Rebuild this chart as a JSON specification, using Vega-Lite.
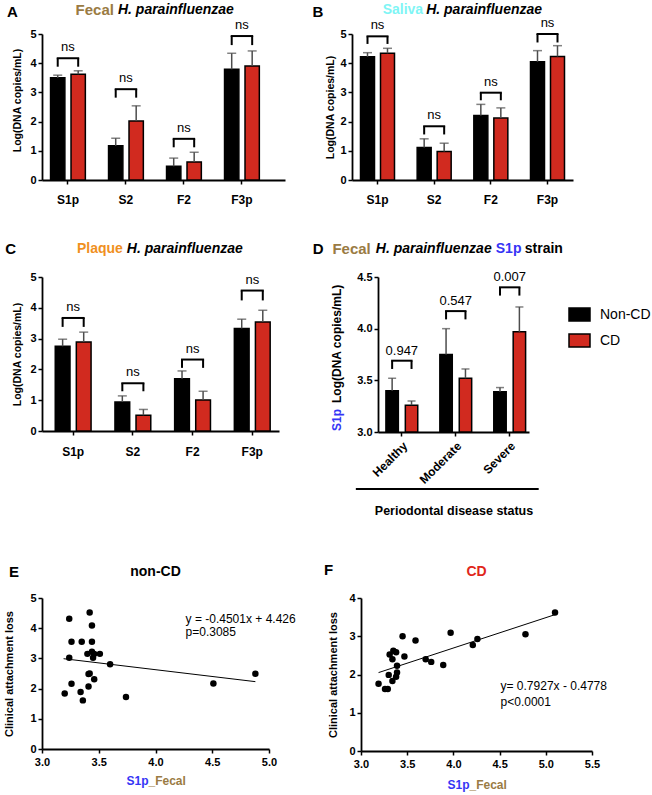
{
  "$schema": "https://vega.github.io/schema/vega-lite/v6.json",
  "padding": {"left": 3, "top": 3, "right": 2, "bottom": 2},
  "config": {
    "font": "Liberation Sans",
    "view": {"stroke": null},
    "axis": {"domainColor": "black", "domainWidth": 1.8, "tickColor": "black", "tickWidth": 1.5, "tickSize": 4, "labelFont": "Liberation Sans", "labelFontWeight": "bold", "labelFontSize": 11, "labelColor": "black", "labelPadding": 2, "labelOverlap": false, "labelFlush": false, "titleFont": "Liberation Sans", "titleFontWeight": "bold", "titleFontSize": 10.5, "titleColor": "black", "grid": false},
    "text": {"font": "Liberation Sans"}
  },
  "datasets": {
    "barsA": [
      {"cat": "S1p", "group": "Non-CD", "mean": 3.50, "err": 3.59},
      {"cat": "S1p", "group": "CD", "mean": 3.62, "err": 3.74},
      {"cat": "S2", "group": "Non-CD", "mean": 1.17, "err": 1.43},
      {"cat": "S2", "group": "CD", "mean": 2.02, "err": 2.54},
      {"cat": "F2", "group": "Non-CD", "mean": 0.47, "err": 0.75},
      {"cat": "F2", "group": "CD", "mean": 0.62, "err": 0.95},
      {"cat": "F3p", "group": "Non-CD", "mean": 3.79, "err": 4.34},
      {"cat": "F3p", "group": "CD", "mean": 3.90, "err": 4.42}
    ],
    "brA": [
      {"cat": "S1p", "group": "Non-CD", "top": 4.17, "leg": 3.88, "label": "ns"},
      {"cat": "S1p", "group": "CD", "top": 4.17, "leg": 3.88, "label": "ns"},
      {"cat": "S2", "group": "Non-CD", "top": 3.11, "leg": 2.82, "label": "ns"},
      {"cat": "S2", "group": "CD", "top": 3.11, "leg": 2.82, "label": "ns"},
      {"cat": "F2", "group": "Non-CD", "top": 1.41, "leg": 1.12, "label": "ns"},
      {"cat": "F2", "group": "CD", "top": 1.41, "leg": 1.12, "label": "ns"},
      {"cat": "F3p", "group": "Non-CD", "top": 4.93, "leg": 4.62, "label": "ns"},
      {"cat": "F3p", "group": "CD", "top": 4.93, "leg": 4.62, "label": "ns"}
    ],
    "barsB": [
      {"cat": "S1p", "group": "Non-CD", "mean": 4.22, "err": 4.36},
      {"cat": "S1p", "group": "CD", "mean": 4.34, "err": 4.51},
      {"cat": "S2", "group": "Non-CD", "mean": 1.11, "err": 1.41},
      {"cat": "S2", "group": "CD", "mean": 0.98, "err": 1.26},
      {"cat": "F2", "group": "Non-CD", "mean": 2.21, "err": 2.59},
      {"cat": "F2", "group": "CD", "mean": 2.12, "err": 2.47},
      {"cat": "F3p", "group": "Non-CD", "mean": 4.05, "err": 4.43},
      {"cat": "F3p", "group": "CD", "mean": 4.23, "err": 4.60}
    ],
    "brB": [
      {"cat": "S1p", "group": "Non-CD", "top": 4.92, "leg": 4.66, "label": "ns"},
      {"cat": "S1p", "group": "CD", "top": 4.92, "leg": 4.66, "label": "ns"},
      {"cat": "S2", "group": "Non-CD", "top": 1.84, "leg": 1.56, "label": "ns"},
      {"cat": "S2", "group": "CD", "top": 1.84, "leg": 1.56, "label": "ns"},
      {"cat": "F2", "group": "Non-CD", "top": 2.99, "leg": 2.73, "label": "ns"},
      {"cat": "F2", "group": "CD", "top": 2.99, "leg": 2.73, "label": "ns"},
      {"cat": "F3p", "group": "Non-CD", "top": 5.0, "leg": 4.71, "label": "ns"},
      {"cat": "F3p", "group": "CD", "top": 5.0, "leg": 4.71, "label": "ns"}
    ],
    "barsC": [
      {"cat": "S1p", "group": "Non-CD", "mean": 2.75, "err": 2.98},
      {"cat": "S1p", "group": "CD", "mean": 2.89, "err": 3.21},
      {"cat": "S2", "group": "Non-CD", "mean": 0.94, "err": 1.14},
      {"cat": "S2", "group": "CD", "mean": 0.51, "err": 0.70},
      {"cat": "F2", "group": "Non-CD", "mean": 1.70, "err": 1.95},
      {"cat": "F2", "group": "CD", "mean": 1.01, "err": 1.29},
      {"cat": "F3p", "group": "Non-CD", "mean": 3.33, "err": 3.63},
      {"cat": "F3p", "group": "CD", "mean": 3.54, "err": 3.92}
    ],
    "brC": [
      {"cat": "S1p", "group": "Non-CD", "top": 3.67, "leg": 3.38, "label": "ns"},
      {"cat": "S1p", "group": "CD", "top": 3.67, "leg": 3.38, "label": "ns"},
      {"cat": "S2", "group": "Non-CD", "top": 1.55, "leg": 1.29, "label": "ns"},
      {"cat": "S2", "group": "CD", "top": 1.55, "leg": 1.29, "label": "ns"},
      {"cat": "F2", "group": "Non-CD", "top": 2.32, "leg": 2.05, "label": "ns"},
      {"cat": "F2", "group": "CD", "top": 2.32, "leg": 2.05, "label": "ns"},
      {"cat": "F3p", "group": "Non-CD", "top": 4.56, "leg": 4.24, "label": "ns"},
      {"cat": "F3p", "group": "CD", "top": 4.56, "leg": 4.24, "label": "ns"}
    ],
    "barsD": [
      {"cat": "Healthy", "group": "Non-CD", "mean": 3.40, "err": 3.52},
      {"cat": "Healthy", "group": "CD", "mean": 3.26, "err": 3.30},
      {"cat": "Moderate", "group": "Non-CD", "mean": 3.75, "err": 4.00},
      {"cat": "Moderate", "group": "CD", "mean": 3.52, "err": 3.61},
      {"cat": "Severe", "group": "Non-CD", "mean": 3.39, "err": 3.43},
      {"cat": "Severe", "group": "CD", "mean": 3.97, "err": 4.21}
    ],
    "brD": [
      {"cat": "Healthy", "group": "Non-CD", "top": 3.69, "leg": 3.61, "label": "0.947"},
      {"cat": "Healthy", "group": "CD", "top": 3.69, "leg": 3.61, "label": "0.947"},
      {"cat": "Moderate", "group": "Non-CD", "top": 4.17, "leg": 4.09, "label": "0.547"},
      {"cat": "Moderate", "group": "CD", "top": 4.17, "leg": 4.09, "label": "0.547"},
      {"cat": "Severe", "group": "Non-CD", "top": 4.40, "leg": 4.32, "label": "0.007"},
      {"cat": "Severe", "group": "CD", "top": 4.40, "leg": 4.32, "label": "0.007"}
    ],
    "E": [
      {"x": 3.20, "y": 1.84}, {"x": 3.24, "y": 3.02}, {"x": 3.24, "y": 4.31}, {"x": 3.26, "y": 3.55},
      {"x": 3.26, "y": 2.16}, {"x": 3.35, "y": 3.55}, {"x": 3.34, "y": 1.89}, {"x": 3.36, "y": 1.61},
      {"x": 3.40, "y": 3.15}, {"x": 3.41, "y": 2.48}, {"x": 3.42, "y": 2.50}, {"x": 3.41, "y": 2.07},
      {"x": 3.42, "y": 4.52}, {"x": 3.44, "y": 4.09}, {"x": 3.44, "y": 3.55}, {"x": 3.44, "y": 3.22},
      {"x": 3.46, "y": 3.15}, {"x": 3.45, "y": 3.02}, {"x": 3.46, "y": 2.31}, {"x": 3.51, "y": 3.15},
      {"x": 3.60, "y": 2.81}, {"x": 3.74, "y": 1.72}, {"x": 4.51, "y": 2.17}, {"x": 4.88, "y": 2.49}
    ],
    "Eline": [{"x": 3.19, "y": 2.99}, {"x": 4.88, "y": 2.23}],
    "F": [
      {"x": 3.19, "y": 1.76}, {"x": 3.26, "y": 1.62}, {"x": 3.29, "y": 1.62}, {"x": 3.30, "y": 1.99},
      {"x": 3.31, "y": 2.52}, {"x": 3.34, "y": 2.40}, {"x": 3.34, "y": 1.83}, {"x": 3.35, "y": 2.62},
      {"x": 3.38, "y": 2.58}, {"x": 3.38, "y": 1.94}, {"x": 3.39, "y": 2.23}, {"x": 3.39, "y": 2.05},
      {"x": 3.45, "y": 3.00}, {"x": 3.47, "y": 2.47}, {"x": 3.59, "y": 2.89}, {"x": 3.70, "y": 2.40},
      {"x": 3.76, "y": 2.33}, {"x": 3.89, "y": 2.25}, {"x": 3.97, "y": 3.09}, {"x": 4.21, "y": 2.77},
      {"x": 4.26, "y": 2.93}, {"x": 4.78, "y": 3.05}, {"x": 5.10, "y": 3.62}
    ],
    "Fline": [{"x": 3.19, "y": 2.05}, {"x": 5.10, "y": 3.565}]
  },
  "resolve": {"scale": {"color": "independent", "xOffset": "independent"}, "legend": {"color": "independent"}},
  "spacing": 37,
  "vconcat": [
    {
      "spacing": 27,
      "resolve": {"scale": {"color": "independent", "xOffset": "independent"}, "legend": {"color": "independent"}},
      "hconcat": [
        {
          "width": 243, "height": 146,
          "layer": [
            {"data": {"name": "barsA"}, "mark": {"type": "bar", "stroke": "black", "strokeWidth": 1.5},
             "encoding": {
               "x": {"field": "cat", "type": "nominal", "sort": ["S1p", "S2", "F2", "F3p"], "scale": {"paddingInner": 0.4, "paddingOuter": 0.295, "align": 0.25},
                     "axis": {"title": null, "labelAngle": 0, "labelFontSize": 12, "labelPadding": 10, "encode": {"labels": {"update": {"fill": {"signal": "datum.value === 'S1p' ? '#3535f5' : datum.value === 'S2' ? '#e0281e' : datum.value === 'F2' ? '#7cf03c' : '#7b1d8e'"}}}}}},
               "xOffset": {"field": "group", "type": "nominal", "sort": ["Non-CD", "CD"], "scale": {"paddingInner": 0.3}},
               "y": {"field": "mean", "type": "quantitative", "scale": {"domain": [0, 5], "nice": false}, "axis": {"title": "Log(DNA copies/mL)", "values": [0, 1, 2, 3, 4, 5], "tickCount": 10, "format": "d", "titlePadding": 7, "titleY": 66}},
               "color": {"field": "group", "type": "nominal", "scale": {"domain": ["Non-CD", "CD"], "range": ["#000000", "#d12a1f"]}, "legend": null}
             }},
            {"data": {"name": "barsA"}, "mark": {"type": "rule", "color": "#4d4d4d", "strokeWidth": 1.5},
             "encoding": {"x": {"field": "cat", "type": "nominal", "sort": ["S1p", "S2", "F2", "F3p"]}, "xOffset": {"field": "group", "type": "nominal", "sort": ["Non-CD", "CD"]}, "y": {"field": "mean", "type": "quantitative"}, "y2": {"field": "err"}}},
            {"data": {"name": "barsA"}, "mark": {"type": "tick", "color": "#4d4d4d", "thickness": 1.5, "size": 9},
             "encoding": {"x": {"field": "cat", "type": "nominal", "sort": ["S1p", "S2", "F2", "F3p"]}, "xOffset": {"field": "group", "type": "nominal", "sort": ["Non-CD", "CD"]}, "y": {"field": "err", "type": "quantitative"}}},
            {"data": {"name": "brA"}, "mark": {"type": "line", "color": "black", "strokeWidth": 2, "strokeCap": "square"},
             "encoding": {"x": {"field": "cat", "type": "nominal", "sort": ["S1p", "S2", "F2", "F3p"]}, "xOffset": {"field": "group", "type": "nominal", "sort": ["Non-CD", "CD"]}, "y": {"field": "top", "type": "quantitative"}, "detail": {"field": "cat"}}},
            {"data": {"name": "brA"}, "mark": {"type": "rule", "color": "black", "strokeWidth": 2},
             "encoding": {"x": {"field": "cat", "type": "nominal", "sort": ["S1p", "S2", "F2", "F3p"]}, "xOffset": {"field": "group", "type": "nominal", "sort": ["Non-CD", "CD"]}, "y": {"field": "leg", "type": "quantitative"}, "y2": {"field": "top"}}},
            {"data": {"name": "brA"}, "transform": [{"filter": "datum.group === 'Non-CD'"}], "mark": {"type": "text", "fontSize": 13, "baseline": "alphabetic", "dy": -7, "color": "black"},
             "encoding": {"x": {"field": "cat", "type": "nominal", "sort": ["S1p", "S2", "F2", "F3p"]}, "y": {"field": "top", "type": "quantitative"}, "text": {"field": "label"}}},
            {"data": {"values": [{"t": "A"}]}, "mark": {"type": "text", "fontSize": 15, "fontWeight": "bold", "align": "left", "baseline": "middle", "dx": -61, "dy": -22, "color": "black"},
             "encoding": {"x": {"datum": "S1p"}, "y": {"datum": 5}, "text": {"field": "t"}}},
            {"data": {"values": [{"t": "Fecal"}]}, "mark": {"type": "text", "fontSize": 15, "fontWeight": "bold", "align": "right", "baseline": "middle", "dx": -12, "dy": -24, "color": "#9a7b43"},
             "encoding": {"x": {"datum": "S2"}, "y": {"datum": 5}, "text": {"field": "t"}}},
            {"data": {"values": [{"t": "H. parainfluenzae"}]}, "mark": {"type": "text", "fontSize": 14, "fontWeight": "bold", "fontStyle": "italic", "align": "left", "baseline": "middle", "dx": -8, "dy": -24, "color": "black"},
             "encoding": {"x": {"datum": "S2"}, "y": {"datum": 5}, "text": {"field": "t"}}}
          ]
        },
        {
          "width": 221, "height": 146,
          "layer": [
            {"data": {"name": "barsB"}, "mark": {"type": "bar", "stroke": "black", "strokeWidth": 1.5},
             "encoding": {
               "x": {"field": "cat", "type": "nominal", "sort": ["S1p", "S2", "F2", "F3p"], "scale": {"paddingInner": 0.4, "paddingOuter": 0.15, "align": 0.5},
                     "axis": {"title": null, "labelAngle": 0, "labelFontSize": 12, "labelPadding": 10, "encode": {"labels": {"update": {"fill": {"signal": "datum.value === 'S1p' ? '#3535f5' : datum.value === 'S2' ? '#e0281e' : datum.value === 'F2' ? '#7cf03c' : '#7b1d8e'"}}}}}},
               "xOffset": {"field": "group", "type": "nominal", "sort": ["Non-CD", "CD"], "scale": {"paddingInner": 0.3}},
               "y": {"field": "mean", "type": "quantitative", "scale": {"domain": [0, 5], "nice": false}, "axis": {"title": "Log(DNA copies/mL)", "values": [0, 1, 2, 3, 4, 5], "tickCount": 10, "format": "d", "titlePadding": 4}},
               "color": {"field": "group", "type": "nominal", "scale": {"domain": ["Non-CD", "CD"], "range": ["#000000", "#d12a1f"]}, "legend": null}
             }},
            {"data": {"name": "barsB"}, "mark": {"type": "rule", "color": "#4d4d4d", "strokeWidth": 1.5},
             "encoding": {"x": {"field": "cat", "type": "nominal", "sort": ["S1p", "S2", "F2", "F3p"]}, "xOffset": {"field": "group", "type": "nominal", "sort": ["Non-CD", "CD"]}, "y": {"field": "mean", "type": "quantitative"}, "y2": {"field": "err"}}},
            {"data": {"name": "barsB"}, "mark": {"type": "tick", "color": "#4d4d4d", "thickness": 1.5, "size": 9},
             "encoding": {"x": {"field": "cat", "type": "nominal", "sort": ["S1p", "S2", "F2", "F3p"]}, "xOffset": {"field": "group", "type": "nominal", "sort": ["Non-CD", "CD"]}, "y": {"field": "err", "type": "quantitative"}}},
            {"data": {"name": "brB"}, "mark": {"type": "line", "color": "black", "strokeWidth": 2, "strokeCap": "square"},
             "encoding": {"x": {"field": "cat", "type": "nominal", "sort": ["S1p", "S2", "F2", "F3p"]}, "xOffset": {"field": "group", "type": "nominal", "sort": ["Non-CD", "CD"]}, "y": {"field": "top", "type": "quantitative"}, "detail": {"field": "cat"}}},
            {"data": {"name": "brB"}, "mark": {"type": "rule", "color": "black", "strokeWidth": 2},
             "encoding": {"x": {"field": "cat", "type": "nominal", "sort": ["S1p", "S2", "F2", "F3p"]}, "xOffset": {"field": "group", "type": "nominal", "sort": ["Non-CD", "CD"]}, "y": {"field": "leg", "type": "quantitative"}, "y2": {"field": "top"}}},
            {"data": {"name": "brB"}, "transform": [{"filter": "datum.group === 'Non-CD'"}], "mark": {"type": "text", "fontSize": 13, "baseline": "alphabetic", "dy": -7, "color": "black"},
             "encoding": {"x": {"field": "cat", "type": "nominal", "sort": ["S1p", "S2", "F2", "F3p"]}, "y": {"field": "top", "type": "quantitative"}, "text": {"field": "label"}}},
            {"data": {"values": [{"t": "B"}]}, "mark": {"type": "text", "fontSize": 15, "fontWeight": "bold", "align": "left", "baseline": "middle", "dx": -65, "dy": -22, "color": "black"},
             "encoding": {"x": {"datum": "S1p"}, "y": {"datum": 5}, "text": {"field": "t"}}},
            {"data": {"values": [{"t": "Saliva"}]}, "mark": {"type": "text", "fontSize": 14, "fontWeight": "bold", "align": "right", "baseline": "middle", "dx": -11, "dy": -24, "color": "#7ff5f5"},
             "encoding": {"x": {"datum": "S2"}, "y": {"datum": 5}, "text": {"field": "t"}}},
            {"data": {"values": [{"t": "H. parainfluenzae"}]}, "mark": {"type": "text", "fontSize": 14, "fontWeight": "bold", "fontStyle": "italic", "align": "left", "baseline": "middle", "dx": -8, "dy": -24, "color": "black"},
             "encoding": {"x": {"datum": "S2"}, "y": {"datum": 5}, "text": {"field": "t"}}}
          ]
        }
      ]
    },
    {
      "spacing": 46,
      "resolve": {"scale": {"color": "independent", "xOffset": "independent"}, "legend": {"color": "independent"}},
      "vconcat": [
        {
          "spacing": 33,
          "resolve": {"scale": {"color": "independent", "xOffset": "independent"}, "legend": {"color": "independent"}},
          "hconcat": [
            {
              "width": 237, "height": 154,
              "layer": [
                {"data": {"name": "barsC"}, "mark": {"type": "bar", "stroke": "black", "strokeWidth": 1.5},
                 "encoding": {
                   "x": {"field": "cat", "type": "nominal", "sort": ["S1p", "S2", "F2", "F3p"], "scale": {"paddingInner": 0.4, "paddingOuter": 0.185, "align": 0.6},
                         "axis": {"title": null, "labelAngle": 0, "labelFontSize": 12, "labelPadding": 11, "encode": {"labels": {"update": {"fill": {"signal": "datum.value === 'S1p' ? '#3535f5' : datum.value === 'S2' ? '#e0281e' : datum.value === 'F2' ? '#7cf03c' : '#7b1d8e'"}}}}}},
                   "xOffset": {"field": "group", "type": "nominal", "sort": ["Non-CD", "CD"], "scale": {"paddingInner": 0.3}},
                   "y": {"field": "mean", "type": "quantitative", "scale": {"domain": [0, 5], "nice": false}, "axis": {"title": "Log(DNA copies/mL)", "values": [0, 1, 2, 3, 4, 5], "tickCount": 10, "format": "d", "titlePadding": 7}},
                   "color": {"field": "group", "type": "nominal", "scale": {"domain": ["Non-CD", "CD"], "range": ["#000000", "#d12a1f"]}, "legend": null}
                 }},
                {"data": {"name": "barsC"}, "mark": {"type": "rule", "color": "#4d4d4d", "strokeWidth": 1.5},
                 "encoding": {"x": {"field": "cat", "type": "nominal", "sort": ["S1p", "S2", "F2", "F3p"]}, "xOffset": {"field": "group", "type": "nominal", "sort": ["Non-CD", "CD"]}, "y": {"field": "mean", "type": "quantitative"}, "y2": {"field": "err"}}},
                {"data": {"name": "barsC"}, "mark": {"type": "tick", "color": "#4d4d4d", "thickness": 1.5, "size": 9},
                 "encoding": {"x": {"field": "cat", "type": "nominal", "sort": ["S1p", "S2", "F2", "F3p"]}, "xOffset": {"field": "group", "type": "nominal", "sort": ["Non-CD", "CD"]}, "y": {"field": "err", "type": "quantitative"}}},
                {"data": {"name": "brC"}, "mark": {"type": "line", "color": "black", "strokeWidth": 2, "strokeCap": "square"},
                 "encoding": {"x": {"field": "cat", "type": "nominal", "sort": ["S1p", "S2", "F2", "F3p"]}, "xOffset": {"field": "group", "type": "nominal", "sort": ["Non-CD", "CD"]}, "y": {"field": "top", "type": "quantitative"}, "detail": {"field": "cat"}}},
                {"data": {"name": "brC"}, "mark": {"type": "rule", "color": "black", "strokeWidth": 2},
                 "encoding": {"x": {"field": "cat", "type": "nominal", "sort": ["S1p", "S2", "F2", "F3p"]}, "xOffset": {"field": "group", "type": "nominal", "sort": ["Non-CD", "CD"]}, "y": {"field": "leg", "type": "quantitative"}, "y2": {"field": "top"}}},
                {"data": {"name": "brC"}, "transform": [{"filter": "datum.group === 'Non-CD'"}], "mark": {"type": "text", "fontSize": 13, "baseline": "alphabetic", "dy": -7, "color": "black"},
                 "encoding": {"x": {"field": "cat", "type": "nominal", "sort": ["S1p", "S2", "F2", "F3p"]}, "y": {"field": "top", "type": "quantitative"}, "text": {"field": "label"}}},
                {"data": {"values": [{"t": "C"}]}, "mark": {"type": "text", "fontSize": 15, "fontWeight": "bold", "align": "left", "baseline": "middle", "dx": -68, "dy": -28, "color": "black"},
                 "encoding": {"x": {"datum": "S1p"}, "y": {"datum": 5}, "text": {"field": "t"}}},
                {"data": {"values": [{"t": "Plaque"}]}, "mark": {"type": "text", "fontSize": 14, "fontWeight": "bold", "align": "right", "baseline": "middle", "dx": -10, "dy": -28, "color": "#f0901e"},
                 "encoding": {"x": {"datum": "S2"}, "y": {"datum": 5}, "text": {"field": "t"}}},
                {"data": {"values": [{"t": "H. parainfluenzae"}]}, "mark": {"type": "text", "fontSize": 14, "fontWeight": "bold", "fontStyle": "italic", "align": "left", "baseline": "middle", "dx": -6, "dy": -28, "color": "black"},
                 "encoding": {"x": {"datum": "S2"}, "y": {"datum": 5}, "text": {"field": "t"}}}
              ]
            },
            {
              "width": 151, "height": 155,
              "layer": [
                {"data": {"name": "barsD"}, "mark": {"type": "bar", "stroke": "black", "strokeWidth": 1.5},
                 "encoding": {
                   "x": {"field": "cat", "type": "nominal", "sort": ["Healthy", "Moderate", "Severe"], "scale": {"paddingInner": 0.41, "paddingOuter": 0.105, "align": 0.7},
                         "axis": {"title": "Periodontal disease status", "titleFontSize": 12.5, "titlePadding": 19, "labelAngle": -45, "labelFontSize": 12, "labelPadding": 4}},
                   "xOffset": {"field": "group", "type": "nominal", "sort": ["Non-CD", "CD"], "scale": {"paddingInner": 0.36}},
                   "y": {"field": "mean", "type": "quantitative", "scale": {"domain": [3, 4.5], "nice": false, "zero": false}, "axis": {"title": null, "values": [3, 3.5, 4, 4.5], "tickCount": 10, "format": ".1f"}},
                   "y2": {"datum": 3},
                   "color": {"field": "group", "type": "nominal", "scale": {"domain": ["Non-CD", "CD"], "range": ["#000000", "#d12a1f"]},
                             "legend": {"orient": "none", "legendX": 190, "legendY": 26, "title": null, "padding": 0, "symbolType": "M-1,-0.62H1V0.62H-1Z", "symbolSize": 441, "symbolStrokeColor": "black", "symbolStrokeWidth": 1.5, "labelFontSize": 14, "labelFontWeight": "normal", "labelColor": "black", "labelOffset": 9, "rowPadding": 4}}
                 }},
                {"data": {"name": "barsD"}, "mark": {"type": "rule", "color": "#4d4d4d", "strokeWidth": 1.5},
                 "encoding": {"x": {"field": "cat", "type": "nominal", "sort": ["Healthy", "Moderate", "Severe"]}, "xOffset": {"field": "group", "type": "nominal", "sort": ["Non-CD", "CD"]}, "y": {"field": "mean", "type": "quantitative"}, "y2": {"field": "err"}}},
                {"data": {"name": "barsD"}, "mark": {"type": "tick", "color": "#4d4d4d", "thickness": 1.5, "size": 8},
                 "encoding": {"x": {"field": "cat", "type": "nominal", "sort": ["Healthy", "Moderate", "Severe"]}, "xOffset": {"field": "group", "type": "nominal", "sort": ["Non-CD", "CD"]}, "y": {"field": "err", "type": "quantitative"}}},
                {"data": {"name": "brD"}, "mark": {"type": "line", "color": "black", "strokeWidth": 2, "strokeCap": "square"},
                 "encoding": {"x": {"field": "cat", "type": "nominal", "sort": ["Healthy", "Moderate", "Severe"]}, "xOffset": {"field": "group", "type": "nominal", "sort": ["Non-CD", "CD"]}, "y": {"field": "top", "type": "quantitative"}, "detail": {"field": "cat"}}},
                {"data": {"name": "brD"}, "mark": {"type": "rule", "color": "black", "strokeWidth": 2},
                 "encoding": {"x": {"field": "cat", "type": "nominal", "sort": ["Healthy", "Moderate", "Severe"]}, "xOffset": {"field": "group", "type": "nominal", "sort": ["Non-CD", "CD"]}, "y": {"field": "leg", "type": "quantitative"}, "y2": {"field": "top"}}},
                {"data": {"name": "brD"}, "transform": [{"filter": "datum.group === 'Non-CD'"}], "mark": {"type": "text", "fontSize": 13, "baseline": "alphabetic", "dy": -6, "color": "black"},
                 "encoding": {"x": {"field": "cat", "type": "nominal", "sort": ["Healthy", "Moderate", "Severe"]}, "y": {"field": "top", "type": "quantitative"}, "text": {"field": "label"}}},
                {"data": {"values": [{"t": "S1p"}]}, "mark": {"type": "text", "fontSize": 12, "fontWeight": "bold", "angle": 270, "align": "left", "baseline": "middle", "dx": 1, "dy": -65, "color": "#3535f5"},
                 "encoding": {"x": {"datum": "Healthy"}, "y": {"datum": 3}, "text": {"field": "t"}}},
                {"data": {"values": [{"t": "Log(DNA copies/mL)"}]}, "mark": {"type": "text", "fontSize": 12, "fontWeight": "bold", "angle": 270, "align": "left", "baseline": "middle", "dx": 29, "dy": -65, "color": "black"},
                 "encoding": {"x": {"datum": "Healthy"}, "y": {"datum": 3}, "text": {"field": "t"}}},
                {"data": {"values": [{"t": "line"}]}, "mark": {"type": "rule", "color": "black", "strokeWidth": 2, "xOffset": -46, "x2Offset": 29, "yOffset": 57, "y2Offset": 57},
                 "encoding": {"x": {"datum": "Healthy"}, "x2": {"datum": "Severe"}, "y": {"datum": 3}}},
                {"data": {"values": [{"t": "D"}]}, "mark": {"type": "text", "fontSize": 15, "fontWeight": "bold", "align": "left", "baseline": "middle", "dx": -89, "dy": -28, "color": "black"},
                 "encoding": {"x": {"datum": "Healthy"}, "y": {"datum": 4.5}, "text": {"field": "t"}}},
                {"data": {"values": [{"t": "Fecal"}]}, "mark": {"type": "text", "fontSize": 15, "fontWeight": "bold", "align": "right", "baseline": "middle", "dx": -85, "dy": -28, "color": "#9a7b43"},
                 "encoding": {"x": {"datum": "Moderate"}, "y": {"datum": 4.5}, "text": {"field": "t"}}},
                {"data": {"values": [{"t": "H. parainfluenzae"}]}, "mark": {"type": "text", "fontSize": 14, "fontWeight": "bold", "fontStyle": "italic", "align": "left", "baseline": "middle", "dx": -80, "dy": -28, "color": "black"},
                 "encoding": {"x": {"datum": "Moderate"}, "y": {"datum": 4.5}, "text": {"field": "t"}}},
                {"data": {"values": [{"t": "S1p"}]}, "mark": {"type": "text", "fontSize": 14, "fontWeight": "bold", "align": "left", "baseline": "middle", "dx": 40, "dy": -28, "color": "#3535f5"},
                 "encoding": {"x": {"datum": "Moderate"}, "y": {"datum": 4.5}, "text": {"field": "t"}}},
                {"data": {"values": [{"t": "strain"}]}, "mark": {"type": "text", "fontSize": 14, "fontWeight": "bold", "align": "left", "baseline": "middle", "dx": 69, "dy": -28, "color": "black"},
                 "encoding": {"x": {"datum": "Moderate"}, "y": {"datum": 4.5}, "text": {"field": "t"}}}
              ]
            }
          ]
        },
        {
          "spacing": 28,
          "hconcat": [
            {
              "width": 227, "height": 151,
              "layer": [
                {"data": {"name": "E"}, "mark": {"type": "circle", "color": "black", "size": 42, "opacity": 1},
                 "encoding": {
                   "x": {"field": "x", "type": "quantitative", "scale": {"domain": [3, 5], "nice": false, "zero": false}, "axis": {"title": null, "values": [3, 3.5, 4, 4.5, 5], "tickCount": 10, "format": ".1f", "labelPadding": 3}},
                   "y": {"field": "y", "type": "quantitative", "scale": {"domain": [0, 5], "nice": false}, "axis": {"title": "Clinical attachment loss", "titleFontSize": 11, "titlePadding": 15, "values": [0, 1, 2, 3, 4, 5], "tickCount": 10, "format": "d"}}
                 }},
                {"data": {"name": "Eline"}, "mark": {"type": "line", "color": "black", "strokeWidth": 1},
                 "encoding": {"x": {"field": "x", "type": "quantitative"}, "y": {"field": "y", "type": "quantitative"}}},
                {"data": {"values": [{"t": "y = -0.4501x + 4.426"}]}, "mark": {"type": "text", "fontSize": 12, "align": "left", "baseline": "middle", "color": "black"},
                 "encoding": {"x": {"datum": 4.265}, "y": {"datum": 4.30}, "text": {"field": "t"}}},
                {"data": {"values": [{"t": "p=0.3085"}]}, "mark": {"type": "text", "fontSize": 12, "align": "left", "baseline": "middle", "color": "black"},
                 "encoding": {"x": {"datum": 4.265}, "y": {"datum": 3.88}, "text": {"field": "t"}}},
                {"data": {"values": [{"t": "E"}]}, "mark": {"type": "text", "fontSize": 15, "fontWeight": "bold", "align": "left", "baseline": "middle", "dx": -33, "dy": -26, "color": "black"},
                 "encoding": {"x": {"datum": 3}, "y": {"datum": 5}, "text": {"field": "t"}}},
                {"data": {"values": [{"t": "non-CD"}]}, "mark": {"type": "text", "fontSize": 14, "fontWeight": "bold", "align": "center", "baseline": "middle", "dy": -26, "color": "black"},
                 "encoding": {"x": {"datum": 4}, "y": {"datum": 5}, "text": {"field": "t"}}},
                {"data": {"values": [{"t": "S1p"}]}, "mark": {"type": "text", "fontSize": 12, "fontWeight": "bold", "align": "right", "baseline": "middle", "dx": -7, "dy": 32, "color": "#3535f5"},
                 "encoding": {"x": {"datum": 4}, "y": {"datum": 0}, "text": {"field": "t"}}},
                {"data": {"values": [{"t": "_Fecal"}]}, "mark": {"type": "text", "fontSize": 12, "fontWeight": "bold", "align": "left", "baseline": "middle", "dx": -7, "dy": 32, "color": "#9a7b43"},
                 "encoding": {"x": {"datum": 4}, "y": {"datum": 0}, "text": {"field": "t"}}}
              ]
            },
            {
              "width": 231, "height": 153,
              "layer": [
                {"data": {"name": "F"}, "mark": {"type": "circle", "color": "black", "size": 42, "opacity": 1},
                 "encoding": {
                   "x": {"field": "x", "type": "quantitative", "scale": {"domain": [3, 5.5], "nice": false, "zero": false}, "axis": {"title": null, "values": [3, 3.5, 4, 4.5, 5, 5.5], "tickCount": 10, "format": ".1f", "labelPadding": 3}},
                   "y": {"field": "y", "type": "quantitative", "scale": {"domain": [0, 4], "nice": false}, "axis": {"title": "Clinical attachment loss", "titleFontSize": 11, "titlePadding": 10, "values": [0, 1, 2, 3, 4], "tickCount": 10, "format": "d"}}
                 }},
                {"data": {"name": "Fline"}, "mark": {"type": "line", "color": "black", "strokeWidth": 1},
                 "encoding": {"x": {"field": "x", "type": "quantitative"}, "y": {"field": "y", "type": "quantitative"}}},
                {"data": {"values": [{"t": "y= 0.7927x - 0.4778"}]}, "mark": {"type": "text", "fontSize": 12, "align": "left", "baseline": "middle", "color": "black"},
                 "encoding": {"x": {"datum": 4.51}, "y": {"datum": 1.71}, "text": {"field": "t"}}},
                {"data": {"values": [{"t": "p<0.0001"}]}, "mark": {"type": "text", "fontSize": 12, "align": "left", "baseline": "middle", "color": "black"},
                 "encoding": {"x": {"datum": 4.51}, "y": {"datum": 1.29}, "text": {"field": "t"}}},
                {"data": {"values": [{"t": "F"}]}, "mark": {"type": "text", "fontSize": 15, "fontWeight": "bold", "align": "left", "baseline": "middle", "dx": -37, "dy": -28, "color": "black"},
                 "encoding": {"x": {"datum": 3}, "y": {"datum": 4}, "text": {"field": "t"}}},
                {"data": {"values": [{"t": "CD"}]}, "mark": {"type": "text", "fontSize": 14, "fontWeight": "bold", "align": "center", "baseline": "middle", "dy": -26, "color": "#e0261b"},
                 "encoding": {"x": {"datum": 4.25}, "y": {"datum": 4}, "text": {"field": "t"}}},
                {"data": {"values": [{"t": "S1p"}]}, "mark": {"type": "text", "fontSize": 12, "fontWeight": "bold", "align": "right", "baseline": "middle", "dx": -7, "dy": 34, "color": "#3535f5"},
                 "encoding": {"x": {"datum": 4.25}, "y": {"datum": 0}, "text": {"field": "t"}}},
                {"data": {"values": [{"t": "_Fecal"}]}, "mark": {"type": "text", "fontSize": 12, "fontWeight": "bold", "align": "left", "baseline": "middle", "dx": -7, "dy": 34, "color": "#9a7b43"},
                 "encoding": {"x": {"datum": 4.25}, "y": {"datum": 0}, "text": {"field": "t"}}}
              ]
            }
          ]
        }
      ]
    }
  ]
}
